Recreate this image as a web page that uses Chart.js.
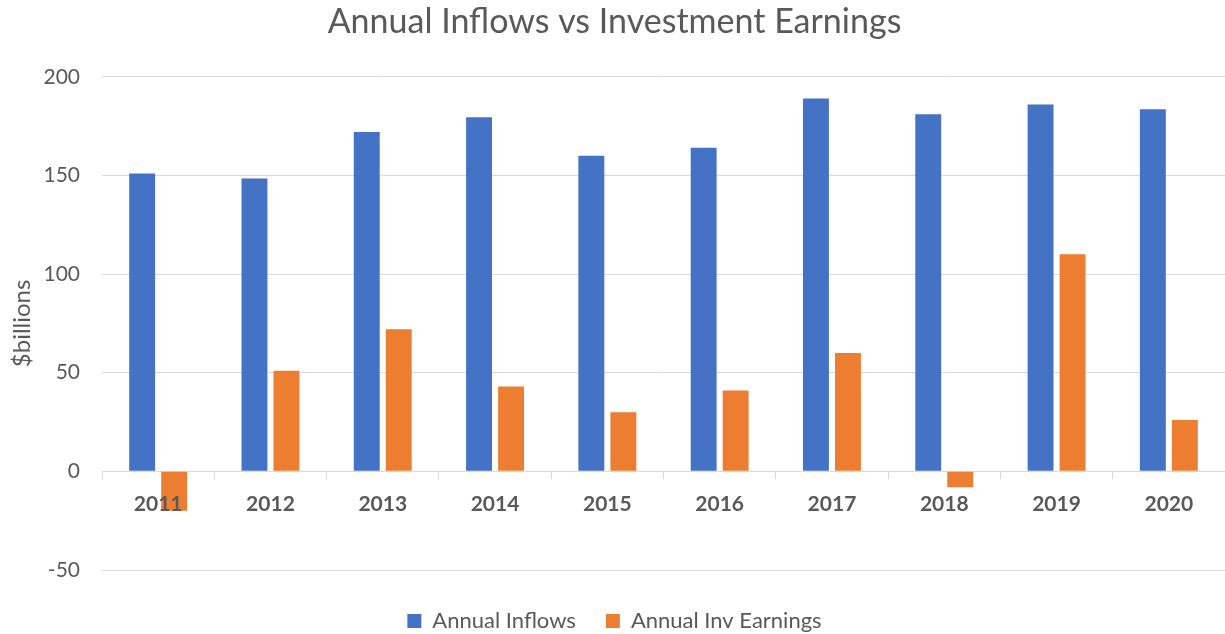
<!DOCTYPE html>
<html><head><meta charset="utf-8">
<script src="https://cdn.jsdelivr.net/npm/chart.js@4/dist/chart.umd.min.js"></script>
<style>html,body{margin:0;padding:0;background:#fff;overflow:hidden}#wrap{width:1225px;height:634px}</style>
</head><body><div id="wrap"><canvas id="c" width="1225" height="634"></canvas></div>
<script>
const categories = ['2011','2012','2013','2014','2015','2016','2017','2018','2019','2020'];
const inflows = [151, 148.5, 172, 179.5, 160, 164, 189, 181, 186, 183.5];
const earnings = [-20, 51, 72, 43, 30, 41, 60, -8, 110, 26];
const yMin = -50, yMax = 200, yStep = 50;
const TXT = '#595959', GRID = '#d9d9d9', FONT = 'Lato';

const legendShift = {
  id: 'legendShift',
  afterLayout(chart) {
    const l = chart.legend;
    if (l) { l.top += 10; l.bottom += 10; }
  }
};

new Chart(document.getElementById('c'), {
  type: 'bar',
  plugins: [legendShift],
  data: {
    labels: categories,
    datasets: [
      {label: 'Annual Inflows', data: inflows, backgroundColor: '#4472C4', categoryPercentage: 0.57, barPercentage: 0.81},
      {label: 'Annual Inv Earnings', data: earnings, backgroundColor: '#ED7D31', categoryPercentage: 0.57, barPercentage: 0.81}
    ]
  },
  options: {
    responsive: false, animation: false,
    layout: {padding: {left: 4, right: 0, top: 0, bottom: 2}},
    plugins: {
      title: {display: true, text: 'Annual Inflows vs Investment Earnings', color: TXT,
        font: {family: FONT, size: 34, weight: 'normal'}, padding: {top: 2, bottom: 34}},
      legend: {position: 'bottom',
        labels: {color: TXT, font: {family: FONT, size: 22}, boxWidth: 14, boxHeight: 14, padding: 30}},
      tooltip: {enabled: false}
    },
    scales: {
      x: {position: {y: 0},
        grid: {display: true, drawOnChartArea: false, drawTicks: true, tickLength: 7, color: GRID, offset: true},
        border: {display: true, color: GRID, width: 1},
        ticks: {z: 1, color: TXT, font: {family: FONT, size: 21, weight: 'bold'}, padding: 13, maxRotation: 0}},
      y: {min: yMin, max: yMax,
        afterFit(s) { s.width = 98; },
        ticks: {stepSize: yStep, color: TXT, font: {family: FONT, size: 21}, padding: 22},
        grid: {color: GRID, drawTicks: false, lineWidth: 1},
        border: {display: false},
        title: {display: true, text: '$billions', color: TXT, font: {family: FONT, size: 24}, padding: {top: 4, bottom: 4}}}
    }
  }
});
</script></body></html>
